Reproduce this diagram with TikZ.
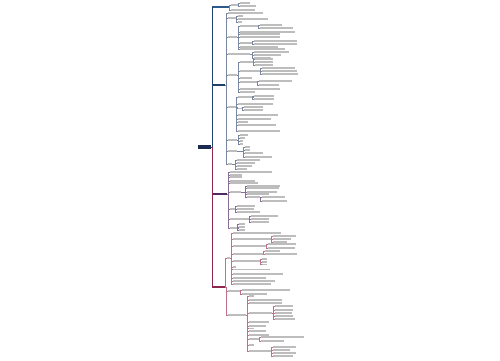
\documentclass[tikz,border=0pt]{standalone}
\usepackage{tikz}
\definecolor{rootc}{HTML}{1B2A50}
\definecolor{navyc}{HTML}{22406E}
\definecolor{bluec}{HTML}{2D5A8C}
\definecolor{purpc}{HTML}{4E2A60}
\definecolor{magc}{HTML}{8E2650}
\definecolor{navyln}{HTML}{7886A2}
\definecolor{purpln}{HTML}{8A6C98}
\definecolor{magln}{HTML}{C07088}
\tikzset{
  rootbox/.style={fill=rootc, anchor=west, inner sep=0pt, minimum height=0.13cm},
  branchbox/.style={anchor=west, inner sep=0pt, minimum height=0.11cm},
  leaf/.style={fill=black!26, anchor=west, inner sep=0pt, minimum height=0.05cm},
  link/.style={draw=navyln, line width=0.3pt},
  spine/.style={line width=0.45pt},
}
% one child: name, parent, x, y, width (all in px)
\newcommand\kid[5]{%
  \node[leaf, minimum width=#5*0.04cm] (#1) at (#3,#4) {};
  \draw[link] (#2.east) -| (#3-1.5,#4) -- (#1.west);
}
\begin{document}
\begin{tikzpicture}[x=0.04cm, y=-0.04cm]
\useasboundingbox (0,0) rectangle (500,360);
% root and main branches
\node[rootbox, minimum width=13*0.04cm] (root) at (198,147) {};
\node[branchbox, fill=bluec, minimum width=17*0.04cm] (b1) at (212,7) {};
\node[branchbox, fill=navyc, minimum width=13*0.04cm] (b2) at (212,85) {};
\node[branchbox, fill=purpc, minimum width=15*0.04cm] (b3) at (212,194) {};
\node[branchbox, fill=magc, minimum width=13*0.04cm] (b4) at (212,287) {};
\draw[spine, draw=navyc] (root.east) -- ++(0.5,0) |- (b1.west);
\draw[spine, draw=navyc] (root.east) -- ++(0.5,0) |- (b2.west);
\draw[spine, draw=purpc] (root.east) -- ++(0.5,0) |- (b3.west);
\draw[spine, draw=magc] (root.east) -- ++(0.5,0) |- (b4.west);

% branch 1
\kid{c1}{b1}{231}{5}{7}
\kid{c1a}{c1}{240}{3}{10}
\kid{c1b}{c1}{240}{6}{16}
\kid{c2}{b1}{231}{10}{24}

% branch 2
\kid{ka}{b2}{228}{13}{35}
\kid{a}{b2}{228}{18}{8}
\kid{a1}{a}{238}{16}{5}
\kid{a2}{a}{238}{19}{30}
\kid{a3}{a}{238}{22}{4}
\kid{bb}{b2}{228}{37}{9}
\kid{bb1}{bb}{240}{26}{18}
\kid{bb1a}{bb1}{260}{25}{22}
\kid{bb1b}{bb1}{260}{28}{33}
\kid{bb2}{bb}{240}{32}{55}
\kid{bb3}{bb}{240}{34}{40}
\kid{bb4}{bb}{240}{37}{40}
\kid{bb5}{bb}{240}{43}{12}
\kid{bb5a}{bb5}{254}{41}{43}
\kid{bb5b}{bb5}{254}{44}{43}
\kid{bb6}{bb}{240}{47}{38}
\kid{bb7}{bb}{240}{49}{45}
\kid{cc}{b2}{228}{54}{22}
\kid{cc1}{cc}{254}{52}{35}
\kid{cc2}{cc}{254}{55}{27}
\kid{cc3}{cc}{254}{58}{17}
\kid{dd}{b2}{228}{75}{9}
\kid{dd1}{dd}{240}{62}{13}
\kid{dd1a}{dd1}{255}{59}{18}
\kid{dd1b}{dd1}{255}{62}{18}
\kid{dd1c}{dd1}{255}{65}{18}
\kid{dd2}{dd}{240}{71}{20}
\kid{dd2a}{dd2}{262}{68}{33}
\kid{dd2b}{dd2}{262}{71}{35}
\kid{dd2c}{dd2}{262}{74}{36}
\kid{dd3}{dd}{240}{78}{12}
\kid{dd4}{dd}{240}{82}{17}
\kid{dd4a}{dd4}{259}{81}{33}
\kid{dd4b}{dd4}{259}{85}{20}
\kid{dd5}{dd}{240}{89}{40}
\kid{dd6}{dd}{240}{92}{15}
\kid{ee}{b2}{228}{107}{9}
\kid{ee1}{ee}{238}{97}{15}
\kid{ee1a}{ee1}{254}{96}{20}
\kid{ee1b}{ee1}{254}{99}{20}
\kid{ee2}{ee}{238}{104}{35}
\kid{ee3}{ee}{238}{108.5}{4}
\kid{ee3a}{ee3}{244}{107}{19}
\kid{ee3b}{ee3}{244}{110}{19}
\kid{ee4}{ee}{238}{115}{40}
\kid{ee5}{ee}{238}{119}{33}
\kid{ee6}{ee}{238}{122}{10}
\kid{ee7}{ee}{238}{125}{38}
\kid{ee8}{ee}{238}{131}{42}
\kid{ff}{b2}{228}{140}{9}
\kid{ff1}{ff}{240}{135}{8}
\kid{ff2}{ff}{240}{138}{5}
\kid{ff3}{ff}{240}{141}{3}
\kid{ff4}{ff}{240}{144}{3}
\kid{gg}{b2}{228}{151}{9}
\kid{gg1}{gg}{245}{147}{5}
\kid{gg2}{gg}{245}{150}{5}
\kid{gg3}{gg}{245}{153}{18}
\kid{gg4}{gg}{245}{157}{27}
\kid{hh}{b2}{228}{164}{4}
\kid{hh1}{hh}{237}{160}{23}
\kid{hh2}{hh}{237}{163}{18}
\kid{hh3}{hh}{237}{166}{15}
\kid{hh4}{hh}{237}{169}{10}

% branch 3
\begin{scope}[link/.style={draw=purpln, line width=0.3pt}]
\kid{p1}{b3}{230}{172}{42}
\kid{p2}{b3}{230}{175}{12}
\kid{p3}{b3}{230}{177}{12}
\kid{p4}{b3}{230}{181}{25}
\kid{p5}{b3}{230}{183}{28}
\kid{pp}{b3}{230}{192}{11}
\kid{pp1}{pp}{247}{186}{33}
\kid{pp2}{pp}{247}{188}{32}
\kid{pp3}{pp}{247}{192}{30}
\kid{pp4}{pp}{247}{194}{22}
\kid{pp5}{pp}{247}{197}{13}
\kid{pp5a}{pp5}{262}{197}{23}
\kid{pp5b}{pp5}{262}{201}{25}
\kid{qq}{b3}{230}{209}{5}
\kid{qq1}{qq}{237}{206}{18}
\kid{qq2}{qq}{237}{209}{17}
\kid{qq3}{qq}{237}{212}{23}
\kid{rr}{b3}{230}{219}{19}
\kid{rr1}{rr}{251}{216}{27}
\kid{rr2}{rr}{251}{219}{18}
\kid{rr3}{rr}{251}{222}{18}
\kid{ss}{b3}{230}{228}{8}
\kid{ss1}{ss}{239}{224}{6}
\kid{ss2}{ss}{239}{227}{6}
\kid{ss3}{ss}{239}{230}{6}
\end{scope}

% branch 4
\begin{scope}[link/.style={draw=magln, line width=0.3pt}]
\kid{tt}{b4}{227}{258}{3}
\kid{tt0}{tt}{233}{233}{48}
\kid{tt1}{tt}{233}{239}{38}
\kid{tt1a}{tt1}{273}{236}{23}
\kid{tt1b}{tt1}{273}{239}{18}
\kid{tt1c}{tt1}{273}{242}{14}
\kid{tt2}{tt}{233}{246}{33}
\kid{tt2a}{tt2}{268}{244}{28}
\kid{tt2b}{tt2}{268}{248}{27}
\kid{tt3}{tt}{233}{254}{30}
\kid{tt3a}{tt3}{265}{251}{15}
\kid{tt3b}{tt3}{265}{254}{32}
\kid{tt4}{tt}{233}{261}{27}
\kid{tt4a}{tt4}{262}{259}{5}
\kid{tt4b}{tt4}{262}{262}{5}
\kid{tt4c}{tt4}{262}{264.5}{5}
\kid{tt5}{tt}{233}{267}{3}
\kid{tt6}{tt}{233}{269.5}{37}
\kid{tt7}{tt}{233}{274}{50}
\kid{tt8}{tt}{233}{278}{33}
\kid{tt9}{tt}{233}{281}{42}
\kid{tt10}{tt}{233}{284}{38}
\kid{uu}{b4}{228}{291}{12}
\kid{uu1}{uu}{242}{290}{48}
\kid{uu2}{uu}{242}{294}{25}
\kid{vv}{b4}{228}{315}{18}
\kid{vv1}{vv}{249}{296}{5}
\kid{vv2}{vv}{249}{300}{33}
\kid{vv3}{vv}{249}{303}{33}
\kid{vw}{vv}{249}{313}{23}
\kid{vw1}{vw}{275}{306}{18}
\kid{vw2}{vw}{275}{310}{18}
\kid{vw3}{vw}{275}{313}{17}
\kid{vw4}{vw}{275}{316}{18}
\kid{vw5}{vw}{275}{319}{20}
\kid{vv4}{vv}{249}{322}{20}
\kid{vv5}{vv}{249}{326}{17}
\kid{vv6}{vv}{249}{328.5}{5}
\kid{vv7}{vv}{249}{331}{17}
\kid{vv8}{vv}{249}{335}{20}
\kid{vx}{vv}{249}{339}{10}
\kid{vx1}{vx}{261}{337}{43}
\kid{vx2}{vx}{261}{341}{23}
\kid{vv9}{vv}{249}{345}{5}
\kid{vy}{vv}{249}{351}{22}
\kid{vy1}{vy}{273}{347}{23}
\kid{vy2}{vy}{273}{350}{17}
\kid{vy3}{vy}{273}{353}{23}
\kid{vy4}{vy}{273}{356}{20}
\end{scope}
\end{tikzpicture}
\end{document}
